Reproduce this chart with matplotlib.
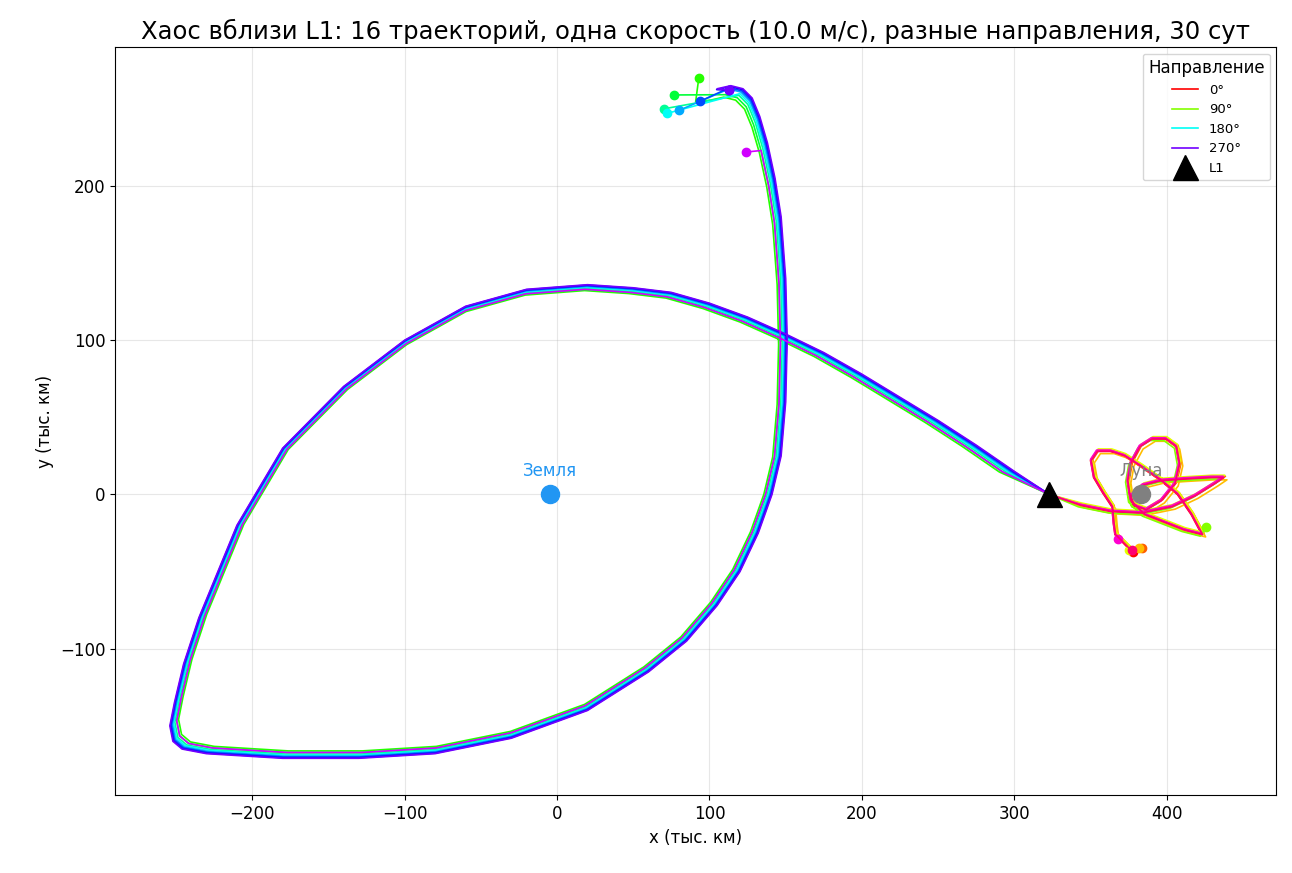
import numpy as np
import matplotlib
matplotlib.use("Agg")
import matplotlib.pyplot as plt

angles = [i * 22.5 for i in range(16)]
groups = ["moon"] * 5 + ["earth"] * 9 + ["moon"] * 2
earth_scale = {5: 0.972, 6: 0.978, 7: 0.984, 8: 0.988, 9: 0.992, 10: 0.995, 11: 0.998, 12: 1.0, 13: 0.978}
earth_end = {5: (93, 270), 6: (77, 259), 7: (70, 250), 8: (72, 247), 9: (80, 249),
             10: (94, 255), 11: (113, 262), 12: (113, 262), 13: (124, 222)}
earth_cut = {5: 0, 6: 2, 7: 3, 8: 3, 9: 2, 10: 2, 11: 1, 12: 1, 13: 6}
moon_shift = {0: (0, 0), 1: (1.5, 0.8), 2: (2.5, -1.5), 3: (1, 1.5), 4: (-1, -1), 14: (0, 0.8), 15: (0.5, 0)}
moon_end = {0: (378, -37), 1: (384, -35), 2: (382, -35), 3: (375, -36), 4: (426, -21),
            14: (368, -29), 15: (377, -36)}
moon_cut = {0: 0, 1: 0, 2: 0, 3: 0, 4: 15, 14: 2, 15: 0}

earth_path_x = [323, 300, 275, 250, 225, 200, 175, 150, 125, 100, 75, 50, 20, -20, -60, -100, -140, -180,
                -210, -235, -245, -251, -254, -252, -246, -230, -180, -130, -80, -30, 20, 60, 85, 105, 120,
                132, 141, 147, 150, 151, 150, 147, 143, 138, 133, 128, 122, 114, 105, 95]
earth_path_y = [0, 15, 32, 48, 63, 78, 92, 104, 115, 124, 131, 134, 136, 133, 122, 100, 70, 30,
                -20, -80, -110, -135, -150, -160, -165, -168, -171, -171, -168, -158, -140, -115, -95, -72, -50,
                -25, 0, 25, 60, 100, 140, 180, 205, 228, 245, 257, 263, 265, 263, 262]
moon_path_x = [325, 343, 363, 383, 403, 418, 431, 437, 429, 411, 396, 384, 376, 378, 386, 396, 405, 408,
               406, 399, 390, 382, 376, 374, 376, 385, 398, 411, 423, 416, 407, 396, 383, 372, 363, 354, 350,
               352, 358, 364, 365, 366, 370, 376]
moon_path_y = [0, -7, -11, -12, -8, -1, 7, 11, 11, 10, 9, 6, -1, -7, -10, -4, 7, 20,
               31, 36, 36, 31, 20, 9, -4, -13, -18, -23, -26, -13, 0, 9, 18, 25, 28, 28, 22,
               11, 1, -8, -19, -26, -30, -36]

earth_xy = (-4.7, 0)
moon_xy = (383, 0)
l1_xy = (323, 0)

fig, ax = plt.subplots(figsize=(12.92, 8.73), dpi=100)
cmap = plt.get_cmap("hsv")
ex = np.array(earth_path_x, float); ey = np.array(earth_path_y, float)
mx = np.array(moon_path_x, float); my = np.array(moon_path_y, float)
cx, cy = -50, 0
for i, a in enumerate(angles):
    c = cmap(a / 360)
    if groups[i] == "earth":
        s = earth_scale[i]
        x = cx + (ex - cx) * s; y = cy + (ey - cy) * s
        n = len(x) - earth_cut[i]
        x, y = x[:n], y[:n]
        end = earth_end[i]
    else:
        dx, dy = moon_shift[i]
        x = mx + dx; y = my + dy
        n = len(x) - moon_cut[i]
        x, y = x[:n], y[:n]
        end = moon_end[i]
    x[0], y[0] = l1_xy
    x = np.append(x, end[0]); y = np.append(y, end[1])
    lab = {0: "0°", 4: "90°", 8: "180°", 12: "270°"}.get(i)
    ax.plot(x, y, color=c, lw=1.2, label=lab)
    ax.plot(end[0], end[1], "o", color=c, ms=6)

ax.plot(*earth_xy, "o", color="#2196f3", ms=13)
ax.text(earth_xy[0], 12, "Земля", color="#2196f3", ha="center", fontsize=12)
ax.plot(*moon_xy, "o", color="gray", ms=13)
ax.text(moon_xy[0], 12, "Луна", color="gray", ha="center", fontsize=12)
ax.plot(*l1_xy, "^", color="black", ms=18, label="L1")

ax.set_xlim(-290, 472)
ax.set_ylim(-195, 290)
ax.grid(alpha=0.3)
ax.tick_params(labelsize=12)
ax.set_xlabel("x (тыс. км)", fontsize=12)
ax.set_ylabel("y (тыс. км)", fontsize=12)
ax.set_title("Хаос вблизи L1: 16 траекторий, одна скорость (10.0 м/с), разные направления, 30 сут", fontsize=17.5)
ax.legend(title="Направление", fontsize=9.5, title_fontsize=12, loc="upper right")
fig.subplots_adjust(left=0.089, right=0.988, top=0.946, bottom=0.089)
fig.savefig("out.png")
